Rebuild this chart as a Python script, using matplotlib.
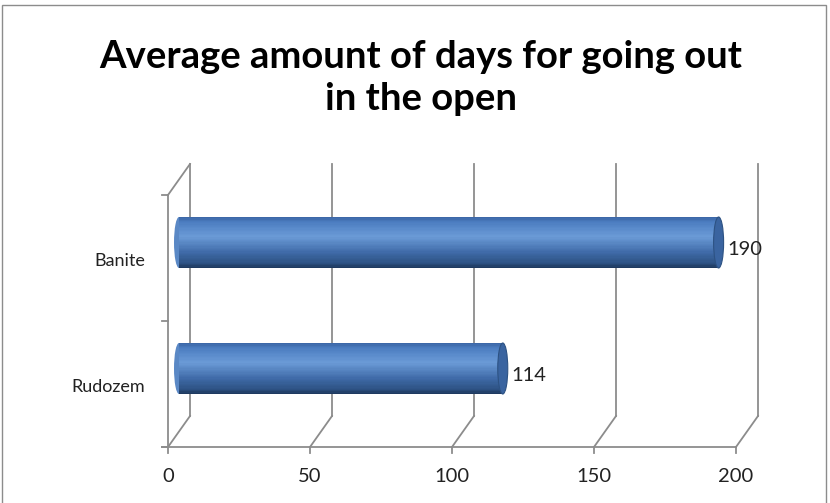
import numpy as np
import matplotlib.pyplot as plt
from matplotlib.patches import Ellipse, Rectangle
from matplotlib.colors import LinearSegmentedColormap

# data
categories = ['Rudozem', 'Banite']
values = [114, 190]
xticks = [0, 50, 100, 150, 200]
title = 'Average amount of days for going out\nin the open'

plt.rcParams['font.family'] = ['Lato', 'DejaVu Sans']

W, H = 830, 503
fig = plt.figure(figsize=(W / 100, H / 100), dpi=100)
ax = fig.add_axes([0, 0, 1, 1])

# pixel mapping of the front plane: value 0 at x=168, 200 at x=736; floor at y=447, top at y=195
px_per_val = (736 - 168) / 200.0
px_per_cat = (447 - 195) / 2.0
ax.set_xlim(-168 / px_per_val, (W - 168) / px_per_val)
ax.set_ylim(-(H - 447) / px_per_cat, 447 / px_per_cat)
ax.axis('off')

# depth offset of the back wall
dx = 22 / px_per_val
dy = 31 / px_per_cat
grid_c = '#8c8c8c'
lw = 1.3
ncat = len(categories)

# back wall verticals + floor diagonals
for v in xticks:
    ax.plot([v + dx, v + dx], [dy, ncat + dy], color=grid_c, lw=lw, zorder=1)
    ax.plot([v, v + dx], [0, dy], color=grid_c, lw=lw, zorder=1)
# left wall
ax.plot([0, 0], [0, ncat], color=grid_c, lw=lw, zorder=1)
ax.plot([0, dx], [ncat, ncat + dy], color=grid_c, lw=lw, zorder=1)
# front axis
tick_x = 6 / px_per_val
tick_y = 6 / px_per_cat
ax.plot([-tick_x, xticks[-1]], [0, 0], color=grid_c, lw=lw, zorder=1)
for v in xticks:
    ax.plot([v, v], [0, -tick_y], color=grid_c, lw=lw, zorder=1)
    ax.text(v, -29 / px_per_cat, str(v), ha='center', va='center', fontsize=14.5, color='#222222')
for i in range(ncat + 1):
    ax.plot([-tick_x, 0], [i, i], color=grid_c, lw=lw, zorder=1)

# cylinder colors
cyl = LinearSegmentedColormap.from_list('cyl', [
    (0.0, '#3d68a8'), (0.08, '#4b7cc0'), (0.38, '#6b9bd7'),
    (0.7, '#3f6aa8'), (0.92, '#2d5283'), (1.0, '#1f3a60')])

bar_h = 51 / px_per_cat
cap_w = 10 / px_per_val
nstripe = 40
for i, (cat, val) in enumerate(zip(categories, values)):
    yc = i + 0.5 + dy / 2
    x0 = dx / 2
    x1 = val + dx / 2
    edges = np.linspace(yc + bar_h / 2, yc - bar_h / 2, nstripe + 1)
    hs = edges[:-1] - edges[1:]
    mids = (edges[:-1] + edges[1:]) / 2
    cols = [cyl(k / (nstripe - 1)) for k in range(nstripe)]
    ax.barh(mids, x1 - x0, height=hs * 1.05, left=x0, color=cols, lw=0, zorder=3)
    ax.add_patch(Ellipse((x0, yc), cap_w, bar_h, facecolor=cyl(0.5), lw=0, zorder=2))
    ax.add_patch(Ellipse((x1, yc), cap_w, bar_h, facecolor='#3a64a0',
                         edgecolor='#2d5283', lw=0.8, zorder=4))
    ax.text(x1 + cap_w / 2 + 4 / px_per_val, yc - 7 / px_per_cat, str(val),
            ha='left', va='center', fontsize=14.5, color='#222222')
    ax.text(-23 / px_per_val, i + 0.5 - 3 / px_per_cat, cat, ha='right', va='center',
            fontsize=13, color='#222222')

fig.text(0.507, 1 - 78 / H, title, ha='center', va='center', fontsize=27.5,
         fontweight='bold', color='black', linespacing=1.32)

fig.patches.append(Rectangle((2 / W, -0.01), (W - 6) / W, 1.0, transform=fig.transFigure,
                             fill=False, edgecolor='#8c8c8c', lw=1))

fig.savefig('out.png', dpi=100)
